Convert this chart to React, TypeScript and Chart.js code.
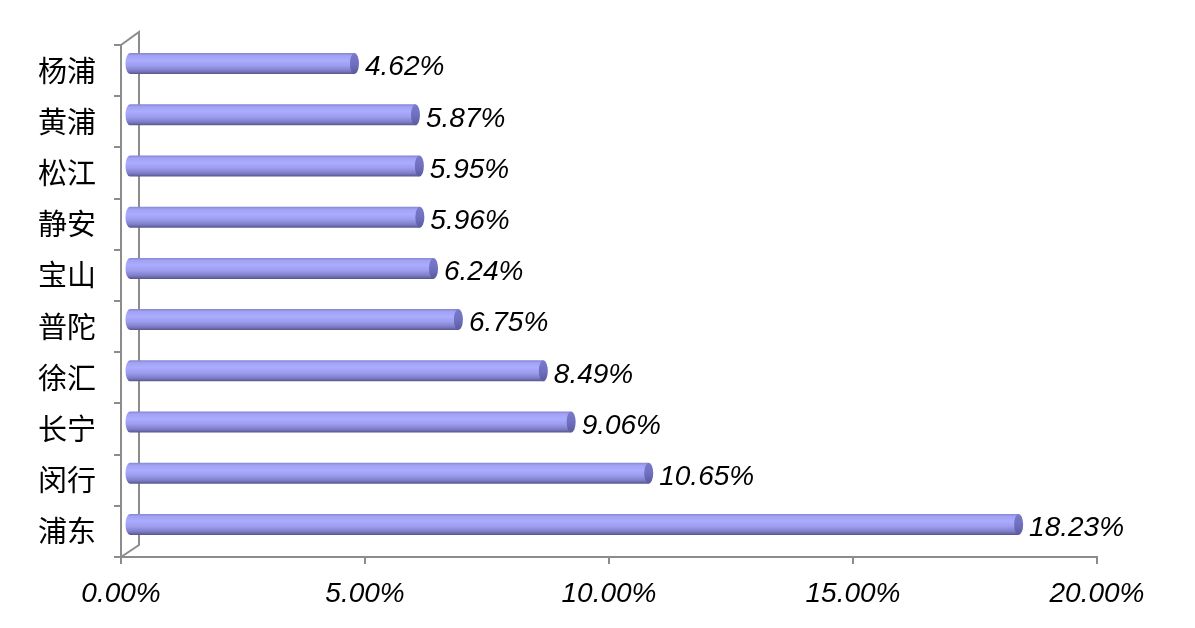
import { useEffect, useRef } from "react";
import { Chart, registerables } from "chart.js";

Chart.register(...registerables);

const districts = ["杨浦", "黄浦", "松江", "静安", "宝山", "普陀", "徐汇", "长宁", "闵行", "浦东"];
const shares = [4.62, 5.87, 5.95, 5.96, 6.24, 6.75, 8.49, 9.06, 10.65, 18.23];
const xTicks = [0, 5, 10, 15, 20];

const AXIS_GRAY = "#8c8c8c";
const DEPTH_X = 8;
const DEPTH_Y = -7;

// draws the 3D back wall and the cylinder bars on top of the bar elements
const cylinderPlugin = {
	id: "cylinders",
	beforeDatasetsDraw(chart: any) {
		const { ctx, chartArea } = chart;
		const { left, top, bottom } = chartArea;
		ctx.save();
		ctx.strokeStyle = AXIS_GRAY;
		ctx.lineWidth = 2;
		ctx.beginPath();
		ctx.moveTo(left, top);
		ctx.lineTo(left + 18, top - 13);
		ctx.lineTo(left + 18, bottom - 12);
		ctx.lineTo(left, bottom);
		ctx.stroke();
		ctx.restore();
	},
	afterDatasetsDraw(chart: any) {
		const { ctx } = chart;
		const meta = chart.getDatasetMeta(0);
		ctx.save();
		meta.data.forEach((bar: any, i: number) => {
			const { x, y, base, height } = bar.getProps(["x", "y", "base", "height"], true);
			const x0 = base + DEPTH_X;
			const x1 = x + DEPTH_X;
			const cy = y + DEPTH_Y;
			const ry = height / 2;
			const rx = 4.5;
			const top = cy - ry;

			const grad = ctx.createLinearGradient(0, top, 0, top + height);
			grad.addColorStop(0, "#8484d4");
			grad.addColorStop(0.12, "#a2a2f4");
			grad.addColorStop(0.35, "#acacff");
			grad.addColorStop(0.6, "#9d9df0");
			grad.addColorStop(0.85, "#7c7cc6");
			grad.addColorStop(1, "#56568f");

			ctx.beginPath();
			ctx.moveTo(x1, top);
			ctx.lineTo(x0, top);
			ctx.ellipse(x0, cy, rx, ry, 0, -Math.PI / 2, Math.PI / 2, true);
			ctx.lineTo(x1, top + height);
			ctx.closePath();
			ctx.fillStyle = grad;
			ctx.fill();

			const capGrad = ctx.createLinearGradient(0, top, 0, top + height);
			capGrad.addColorStop(0, "#7a7acc");
			capGrad.addColorStop(0.5, "#7070c0");
			capGrad.addColorStop(1, "#5a5a9e");
			ctx.beginPath();
			ctx.ellipse(x1, cy, rx, ry, 0, 0, Math.PI * 2);
			ctx.fillStyle = capGrad;
			ctx.fill();

			ctx.fillStyle = "#000";
			ctx.font = "italic 28px 'Liberation Sans', Arial, sans-serif";
			ctx.textAlign = "left";
			ctx.textBaseline = "middle";
			ctx.fillText(shares[i].toFixed(2) + "%", x1 + rx + 6, cy + 4);
		});
		ctx.restore();
	},
};

export default function App() {
	const canvasRef = useRef<HTMLCanvasElement | null>(null);
	const chartRef = useRef<Chart | null>(null);

	useEffect(() => {
		document.body.style.margin = "0";
		if (!canvasRef.current) return;
		const ctx = canvasRef.current.getContext("2d");
		if (!ctx) return;

		if (chartRef.current) {
			chartRef.current.destroy();
		}

		chartRef.current = new Chart(ctx, {
			type: "bar",
			data: {
				labels: districts,
				datasets: [
					{
						data: shares,
						backgroundColor: "rgba(0,0,0,0)",
						borderWidth: 0,
						barThickness: 21,
					},
				],
			},
			options: {
				indexAxis: "y",
				animation: false,
				responsive: false,
				maintainAspectRatio: false,
				layout: { padding: { top: 45, right: 98, left: 0, bottom: 0 } },
				plugins: {
					legend: { display: false },
					tooltip: { enabled: false },
				},
				scales: {
					x: {
						min: 0,
						max: 20,
						afterFit: (scale: any) => {
							scale.height = 71;
						},
						afterBuildTicks: (scale: any) => {
							scale.ticks = xTicks.map((v) => ({ value: v }));
						},
						ticks: {
							callback: (v: any) => Number(v).toFixed(2) + "%",
							color: "#000",
							padding: 13,
							font: { family: "'Liberation Sans', Arial, sans-serif", size: 28, style: "italic" },
							maxRotation: 0,
						},
						grid: {
							drawOnChartArea: false,
							drawTicks: true,
							tickLength: 7,
							color: AXIS_GRAY,
							lineWidth: 2,
						},
						border: { display: true, color: AXIS_GRAY, width: 2 },
					},
					y: {
						afterFit: (scale: any) => {
							scale.width = 121;
						},
						ticks: {
							color: "#000",
							padding: 18,
							font: { family: "'Noto Sans CJK SC', sans-serif", size: 29 },
						},
						grid: {
							offset: true,
							drawOnChartArea: false,
							drawTicks: true,
							tickLength: 7,
							color: AXIS_GRAY,
							lineWidth: 2,
						},
						border: { display: true, color: AXIS_GRAY, width: 2 },
					},
				},
			},
			plugins: [cylinderPlugin],
		});

		return () => {
			if (chartRef.current) {
				chartRef.current.destroy();
				chartRef.current = null;
			}
		};
	}, []);

	return (
		<div style={{ width: 1195, height: 628, background: "#fff" }}>
			<canvas ref={canvasRef} width={1195} height={628} />
		</div>
	);
}
